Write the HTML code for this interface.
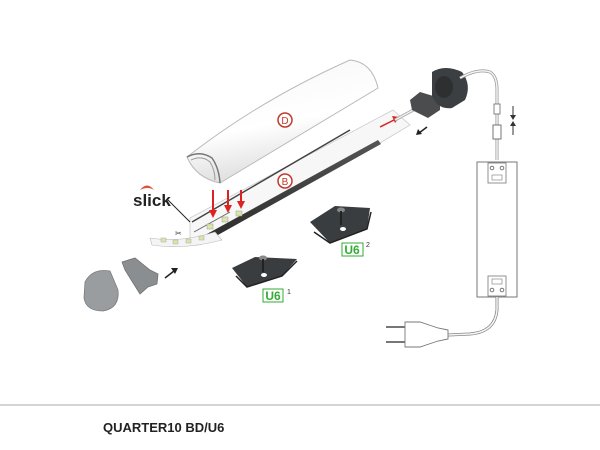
<!DOCTYPE html>
<html><head><meta charset="utf-8"><style>
html,body{margin:0;padding:0;background:#fff;width:600px;height:450px;overflow:hidden}
svg{display:block}
</style></head><body>
<svg width="600" height="450" viewBox="0 0 600 450" xmlns="http://www.w3.org/2000/svg" font-family="Liberation Sans, sans-serif">
<defs>
<linearGradient id="cov" x1="0" y1="0" x2="0.3" y2="1"><stop offset="0" stop-color="#f6f6f6"/><stop offset="0.6" stop-color="#fff"/><stop offset="1" stop-color="#dcdcdc"/></linearGradient>
<linearGradient id="dk" x1="0" y1="0" x2="0" y2="1"><stop offset="0" stop-color="#555"/><stop offset="1" stop-color="#2a2a2a"/></linearGradient>
</defs>
<path d="M187,157 Q260,100 350,60 Q372,62 378,88 L220,183 Q196,178 187,157 Z" fill="url(#cov)" stroke="#bbb" stroke-width="1"/>
<path d="M187,157 Q200,150 212,158 Q219,168 220,183" fill="none" stroke="#777" stroke-width="1.5"/>
<path d="M191,160 Q202,155 210,162 Q215,170 215,180" fill="none" stroke="#999" stroke-width="1"/>
<circle cx="285" cy="120" r="7" fill="#fff" stroke="#c0392b" stroke-width="1.5"/>
<text x="285" y="124" font-size="10" fill="#c0392b" text-anchor="middle">D</text>
<path d="M190,218 L393,110 L410,125 L380,143 L198,245 L190,240 Z" fill="#f7f7f7" stroke="#ccc" stroke-width="0.8"/>
<line x1="192" y1="222" x2="350" y2="130" stroke="#444" stroke-width="1.5"/>
<path d="M196,240 L378,140 L381,144 L200,245 Z" fill="url(#dk)"/>
<path d="M194,232 L230,212" stroke="#666" stroke-width="1"/>
<circle cx="285" cy="181" r="7" fill="#fff" stroke="#c0392b" stroke-width="1.5"/>
<text x="285" y="185" font-size="10" fill="#c0392b" text-anchor="middle">B</text>
<g fill="#d9e6a8" stroke="#999" stroke-width="0.5">
<rect x="207" y="224" width="6" height="5"/><rect x="222" y="217" width="6" height="5"/><rect x="236" y="211" width="6" height="5"/>
</g>
<g stroke="#d22" stroke-width="2" fill="#d22">
<line x1="213" y1="190" x2="213" y2="212"/><polygon points="209,210 217,210 213,218" stroke="none"/>
<line x1="228" y1="190" x2="228" y2="207"/><polygon points="224,205 232,205 228,213" stroke="none"/>
<line x1="241" y1="190" x2="241" y2="203"/><polygon points="237,201 245,201 241,209" stroke="none"/>
<line x1="380" y1="127" x2="394" y2="120" stroke-width="1.5"/><polygon points="392,116 400,117 395,123" stroke="none"/>
</g>
<path d="M140,190 Q147,181 154,190 Q148,186 140,190 Z" fill="#e0503a"/>
<text x="133" y="206" font-size="17" fill="#222" font-weight="bold">slick</text>
<line x1="168" y1="200" x2="190" y2="222" stroke="#222" stroke-width="1"/>
<path d="M150,238 Q180,243 215,232 L222,240 Q185,250 152,245 Z" fill="#f4f4f4" stroke="#bbb" stroke-width="0.6"/>
<g fill="#d9e6a8" stroke="#aaa" stroke-width="0.5">
<rect x="161" y="238" width="5" height="4"/><rect x="173" y="240" width="5" height="4"/><rect x="186" y="239" width="5" height="4"/><rect x="199" y="236" width="5" height="4"/>
</g>
<text x="175" y="236" font-size="8" fill="#333">✂</text>
<path d="M85,282 Q92,268 110,271 L118,290 Q120,308 103,311 Q86,311 84,298 Z" fill="#9a9d9f" stroke="#7a7d80" stroke-width="0.8"/>
<path d="M122,262 L135,258 L150,270 L158,274 L157,284 L148,287 L140,294 L125,270 Z" fill="#8a8e90" stroke="#6f7274" stroke-width="0.8"/>
<line x1="165" y1="278" x2="174" y2="271" stroke="#222" stroke-width="1.5"/><polygon points="171,268 178,268 175,274" fill="#222"/>
<path d="M232,268 L255,257 L297,259 L282,276 L247,287 Z" fill="#3a3d3f"/>
<path d="M236,276 L247,287 L282,276 L297,261" fill="none" stroke="#222" stroke-width="1.5"/>
<ellipse cx="263" cy="258" rx="4" ry="2.5" fill="#888"/><rect x="262" y="259" width="2" height="13" fill="#222"/><ellipse cx="264" cy="275" rx="3" ry="2" fill="#fff"/>
<rect x="263" y="289" width="20" height="13" fill="#fff" stroke="#3a3" stroke-width="1"/>
<text x="273" y="300" font-size="12" fill="#3a3" font-weight="bold" text-anchor="middle">U6</text>
<text x="287" y="294" font-size="7" fill="#333">1</text>
<path d="M310,222 L335,206 L370,208 L367,229 L330,243 Z" fill="#3a3d3f"/>
<path d="M314,232 L330,243 L367,229 L371,212" fill="none" stroke="#222" stroke-width="1.5"/>
<ellipse cx="341" cy="210" rx="4" ry="2.5" fill="#888"/><rect x="340" y="211" width="2" height="14" fill="#222"/><ellipse cx="343" cy="229" rx="3" ry="2" fill="#fff"/>
<rect x="342" y="243" width="21" height="13" fill="#fff" stroke="#3a3" stroke-width="1"/>
<text x="352" y="254" font-size="12" fill="#3a3" font-weight="bold" text-anchor="middle">U6</text>
<text x="366" y="247" font-size="7" fill="#333">2</text>
<line x1="395" y1="120" x2="450" y2="90" stroke="#aaa" stroke-width="3"/>
<line x1="395" y1="120" x2="450" y2="90" stroke="#eee" stroke-width="1.5"/>
<path d="M410,100 L420,92 L440,98 L440,110 L428,118 L412,110 Z" fill="#4a4c4e"/>
<path d="M432,72 Q445,64 462,72 Q472,85 465,100 L452,108 Q438,110 432,96 Z" fill="#3c3f41"/>
<ellipse cx="444" cy="87" rx="9" ry="11" fill="#2d2f31"/>
<line x1="419" y1="133" x2="427" y2="127" stroke="#222" stroke-width="1.5"/><polygon points="416,135 418,129 422,134" fill="#222"/>
<path d="M460,78 Q478,68 490,72 Q497,76 497,90 L497,160" fill="none" stroke="#999" stroke-width="3"/>
<path d="M460,78 Q478,68 490,72 Q497,76 497,90 L497,160" fill="none" stroke="#f4f4f4" stroke-width="1.5"/>
<rect x="494" y="104" width="6" height="10" fill="#fff" stroke="#666" stroke-width="0.8"/>
<rect x="493" y="125" width="8" height="14" fill="#fff" stroke="#555" stroke-width="0.8"/>
<line x1="513" y1="106" x2="513" y2="117" stroke="#333" stroke-width="1"/><polygon points="510,115 516,115 513,120" fill="#333"/>
<line x1="513" y1="135" x2="513" y2="124" stroke="#333" stroke-width="1"/><polygon points="510,126 516,126 513,121" fill="#333"/>
<rect x="477" y="162" width="40" height="135" fill="#fff" stroke="#777" stroke-width="1"/>
<rect x="488" y="163" width="18" height="20" fill="#fff" stroke="#777" stroke-width="0.8"/>
<circle cx="492" cy="168" r="1.8" fill="none" stroke="#777"/><circle cx="502" cy="168" r="1.8" fill="none" stroke="#777"/>
<rect x="492" y="175" width="10" height="5" fill="none" stroke="#777" stroke-width="0.6"/>
<rect x="488" y="276" width="18" height="20" fill="#fff" stroke="#777" stroke-width="0.8"/>
<circle cx="492" cy="290" r="1.8" fill="none" stroke="#777"/><circle cx="502" cy="290" r="1.8" fill="none" stroke="#777"/>
<rect x="492" y="279" width="10" height="5" fill="none" stroke="#777" stroke-width="0.6"/>
<path d="M497,297 L497,310 Q495,332 470,334 L448,335" fill="none" stroke="#888" stroke-width="3"/>
<path d="M497,297 L497,310 Q495,332 470,334 L448,335" fill="none" stroke="#f4f4f4" stroke-width="1.5"/>
<path d="M448,330 L438,328 L420,322 L405,322 L405,347 L420,347 L438,341 L448,339 Z" fill="#fff" stroke="#777" stroke-width="0.9"/>
<line x1="386" y1="327" x2="405" y2="327" stroke="#777" stroke-width="2"/>
<line x1="386" y1="342" x2="405" y2="342" stroke="#777" stroke-width="2"/>
<rect x="0" y="404" width="600" height="2" fill="#d4d4d4"/>
<text x="103" y="432" font-size="13" font-weight="bold" fill="#222">QUARTER10 BD/U6</text>
</svg>
</body></html>
